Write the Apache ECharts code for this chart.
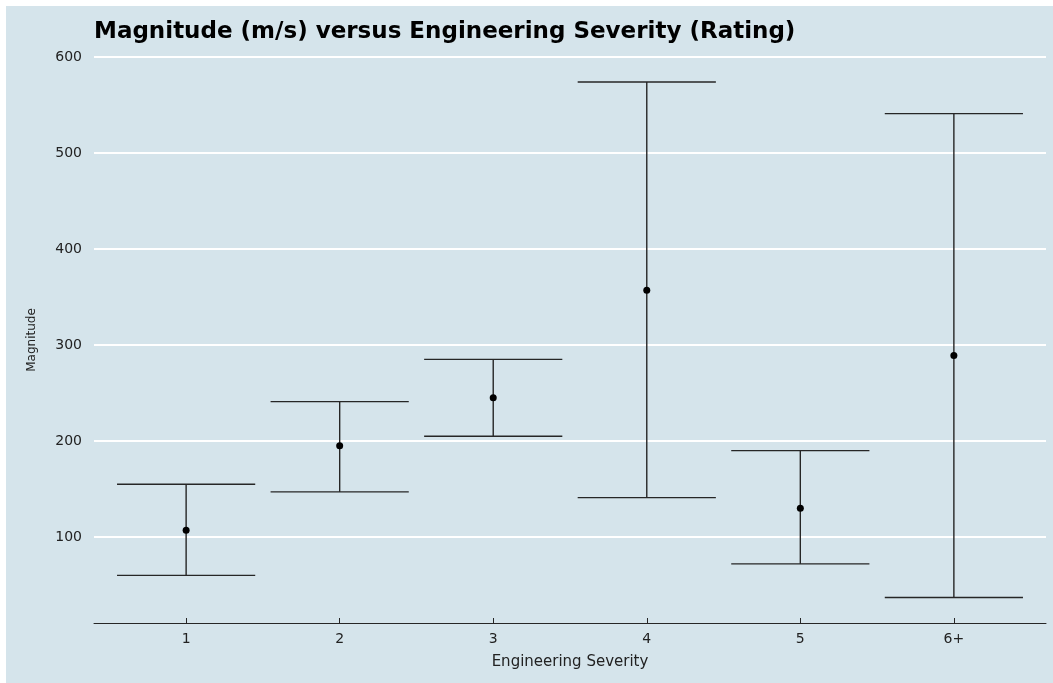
<!DOCTYPE html>
<html>
<head>
<meta charset="utf-8">
<title>Magnitude versus Engineering Severity</title>
<script src="https://cdn.jsdelivr.net/npm/echarts@6/dist/echarts.min.js"></script>
<style>
    html, body { margin: 0; padding: 0; background: #ffffff; }
    #chart1 { position: absolute; left: 6px; top: 6px; width: 1047px; height: 677px; }
</style>
</head>
<body>
<div id="chart1"></div>
<script>
// values
var categories = ['1', '2', '3', '4', '5', '6+'];
var means = [107, 195, 245, 357, 130, 289];
var lower = [60, 147, 205, 141, 72, 37];
var upper = [155, 241, 285, 574, 190, 541];
var yTicks = [100, 200, 300, 400, 500, 600];
var xTicks = [1, 2, 3, 4, 5, 6];

var points = [];
var bars = [];
for (var i = 0; i < categories.length; i++) {
    points.push([i + 1, means[i]]);
    bars.push([i + 1, lower[i], upper[i]]);
}

var lineColor = '#262626';
var font = 'DejaVu Sans';

var dom = document.getElementById('chart1');
var myChart = echarts.init(dom);

var option = {
    backgroundColor: '#d5e4eb',
    animation: false,
    title: {
        text: 'Magnitude (m/s) versus Engineering Severity (Rating)',
        left: 83,
        top: 10,
        textStyle: {
            fontFamily: font,
            fontWeight: 'bold',
            fontSize: 23,
            color: '#000000'
        }
    },
    grid: {
        left: 88,
        right: 7,
        top: 51,
        bottom: 60
    },
    xAxis: {
        type: 'value',
        min: 0.4,
        max: 6.6,
        name: 'Engineering Severity',
        nameLocation: 'middle',
        nameGap: 32,
        nameTextStyle: { fontFamily: font, fontSize: 15, color: '#222222' },
        splitLine: { show: false },
        axisLine: { show: true, lineStyle: { color: lineColor, width: 1 } },
        axisTick: {
            show: true,
            inside: true,
            length: 5,
            customValues: xTicks,
            lineStyle: { color: lineColor }
        },
        axisLabel: {
            customValues: xTicks,
            margin: 9,
            fontFamily: font,
            fontSize: 14,
            color: '#222222',
            formatter: function (v) {
                return categories[Math.round(v) - 1];
            }
        }
    },
    yAxis: {
        type: 'value',
        min: 10.4,
        max: 600,
        name: 'Magnitude',
        nameLocation: 'middle',
        nameGap: 56,
        nameTextStyle: { fontFamily: font, fontSize: 12, color: '#222222' },
        axisLine: { show: false },
        axisTick: { show: false, customValues: yTicks },
        splitLine: { show: true, lineStyle: { color: '#ffffff', width: 2 } },
        axisLabel: {
            customValues: yTicks,
            margin: 12,
            fontFamily: font,
            fontSize: 14,
            color: '#222222'
        }
    },
    series: [
        {
            name: 'range',
            type: 'custom',
            data: bars,
            encode: { x: 0, y: [1, 2] },
            renderItem: function (params, api) {
                var x = api.value(0);
                var lo = api.coord([x, api.value(1)]);
                var hi = api.coord([x, api.value(2)]);
                var half = api.size([0.45, 0])[0];
                var style = { stroke: lineColor, lineWidth: 1.4 };
                return {
                    type: 'group',
                    children: [
                        { type: 'line', shape: { x1: lo[0], y1: lo[1], x2: hi[0], y2: hi[1] }, style: style },
                        { type: 'line', shape: { x1: hi[0] - half, y1: hi[1], x2: hi[0] + half, y2: hi[1] }, style: style },
                        { type: 'line', shape: { x1: lo[0] - half, y1: lo[1], x2: lo[0] + half, y2: lo[1] }, style: style }
                    ]
                };
            },
            z: 2
        },
        {
            name: 'mean',
            type: 'scatter',
            data: points,
            symbol: 'circle',
            symbolSize: 7,
            itemStyle: { color: '#000000', opacity: 1 },
            z: 3
        }
    ]
};

if (option && typeof option === 'object') {
    myChart.setOption(option, true);
}
</script>
</body>
</html>
